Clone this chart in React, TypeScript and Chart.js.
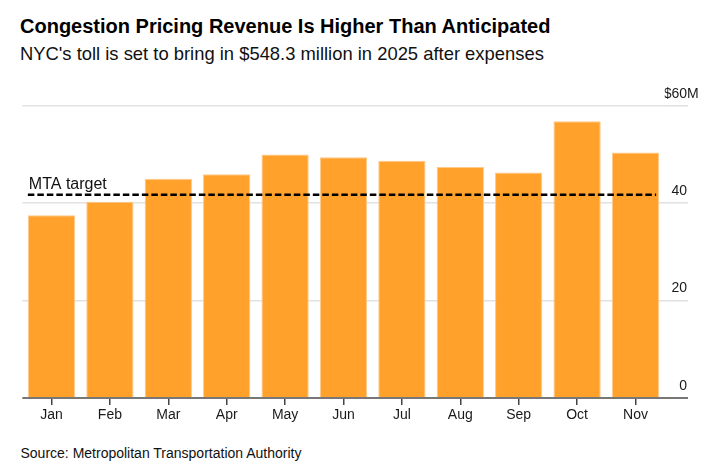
import React, { useEffect, useRef } from "react";
import { Chart, registerables } from "chart.js";

Chart.register(...registerables);

const months = ["Jan", "Feb", "Mar", "Apr", "May", "Jun", "Jul", "Aug", "Sep", "Oct", "Nov"];
const revenue = [37.5, 40.3, 45.0, 45.9, 50.0, 49.4, 48.7, 47.4, 46.3, 56.8, 50.4];
const mtaTarget = 41.7;
const yTicks = [0, 20, 40, 60];

const FONT = '"Liberation Sans", Arial, Helvetica, sans-serif';
const Y_TICK_LEN = 23.3;

const targetPlugin = {
  id: "targetLine",
  afterDatasetsDraw(chart: any) {
    const meta = chart.getDatasetMeta(0);
    const first = meta.data[0];
    const last = meta.data[meta.data.length - 1];
    const y = chart.scales.y.getPixelForValue(mtaTarget);
    const x1 = first.x - first.width / 2;
    const x2 = last.x + last.width / 2 - 3;
    const ctx = chart.ctx;
    ctx.save();
    ctx.strokeStyle = "#000";
    ctx.lineWidth = 2.5;
    ctx.setLineDash([6.5, 3]);
    ctx.beginPath();
    ctx.moveTo(x1, y);
    ctx.lineTo(x2, y);
    ctx.stroke();
    ctx.setLineDash([]);
    ctx.fillStyle = "#111";
    ctx.font = `16px ${FONT}`;
    ctx.textAlign = "left";
    ctx.textBaseline = "alphabetic";
    ctx.fillText("MTA target", x1 + 1, y - 5.5);
    ctx.restore();
  },
};

const suffixPlugin = {
  id: "unitSuffix",
  afterDraw(chart: any) {
    const sc = chart.scales.y;
    const ctx = chart.ctx;
    ctx.save();
    ctx.font = `14px ${FONT}`;
    const y = sc.getPixelForValue(60) - 12;
    ctx.fillStyle = "#1a1a1a";
    ctx.textAlign = "left";
    ctx.textBaseline = "middle";
    ctx.fillText("M", sc.right, y);
    ctx.restore();
  },
};

export default function App() {
  const ref = useRef<HTMLCanvasElement>(null);

  useEffect(() => {
    if (!ref.current) return;
    const chart = new Chart(ref.current, {
      type: "bar",
      data: {
        labels: months,
        datasets: [
          {
            data: revenue,
            backgroundColor: "#FFA12B",
            borderColor: "#FFC98A",
            borderWidth: 1,
            barPercentage: 0.81,
            categoryPercentage: 1,
          },
        ],
      },
      options: {
        animation: false,
        responsive: true,
        maintainAspectRatio: false,
        layout: { padding: { left: 22.3, right: 31, top: 35.7, bottom: 4.3 } },
        plugins: {
          legend: { display: false },
          tooltip: { enabled: false },
          title: { display: false },
        },
        scales: {
          x: {
            type: "category",
            offset: true,
            border: { display: false },
            grid: {
              display: true,
              drawOnChartArea: false,
              drawTicks: true,
              tickLength: 7,
              tickColor: "#444",
              lineWidth: 1.5,
              offset: false,
            },
            ticks: {
              color: "#1a1a1a",
              font: { family: FONT, size: 14 },
              padding: 2,
              maxRotation: 0,
              autoSkip: false,
            },
          },
          y: {
            position: "right",
            min: 0,
            max: 60,
            border: { display: false },
            afterFit(scale: any) {
              scale.width = 687 - 664.7;
            },
            afterBuildTicks(scale: any) {
              scale.ticks = yTicks.map((v) => ({ value: v }));
            },
            grid: {
              color: (c: any) => (c.tick && c.tick.value === 0 ? "#777" : "#e2e2e2"),
              lineWidth: (c: any) => (c.tick && c.tick.value === 0 ? 2 : 1.6),
              tickColor: (c: any) => (c.tick && c.tick.value === 0 ? "#777" : "#e2e2e2"),
              drawTicks: true,
              tickLength: Y_TICK_LEN,
            },
            ticks: {
              color: "#1a1a1a",
              font: { family: FONT, size: 14 },
              crossAlign: "far",
              padding: 0,
              labelOffset: -12,
              callback: (v: any) => (v === 60 ? "$60" : String(v)),
            },
          },
        },
      },
      plugins: [targetPlugin, suffixPlugin],
    });
    return () => chart.destroy();
  }, []);

  return (
    <div style={{ position: "absolute", left: 0, top: 0, width: 718, height: 471, background: "#fff", fontFamily: FONT }}>
      <div style={{ position: "absolute", left: 20, top: 16.4, fontSize: 20, lineHeight: "20px", fontWeight: 700, color: "#000", whiteSpace: "nowrap" }}>
        Congestion Pricing Revenue Is Higher Than Anticipated
      </div>
      <div style={{ position: "absolute", left: 20, top: 45.4, fontSize: 18.4, lineHeight: "18.4px", color: "#111", whiteSpace: "nowrap" }}>
        NYC's toll is set to bring in $548.3 million in 2025 after expenses
      </div>
      <div style={{ position: "absolute", left: 0, top: 70, width: 718, height: 360 }}>
        <canvas ref={ref} />
      </div>
      <div style={{ position: "absolute", left: 20.5, top: 446, fontSize: 14, lineHeight: "14px", color: "#111", whiteSpace: "nowrap" }}>
        Source: Metropolitan Transportation Authority
      </div>
    </div>
  );
}
